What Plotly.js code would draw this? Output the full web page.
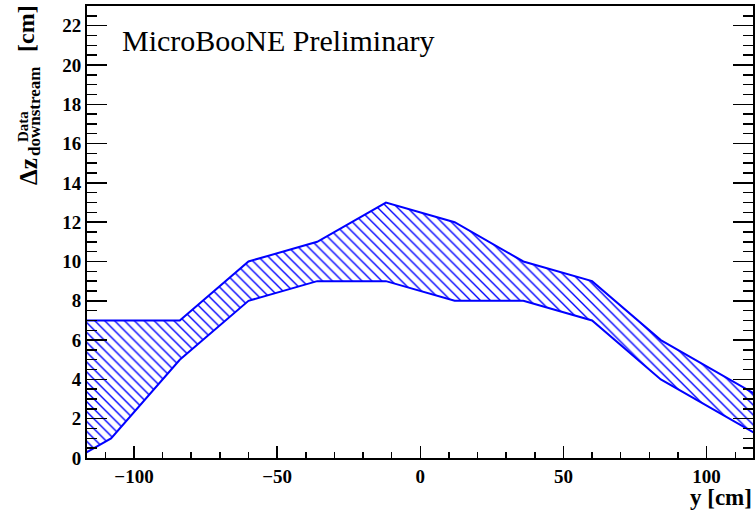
<!DOCTYPE html>
<html>
<head>
<meta charset="utf-8">
<script src="https://cdn.plot.ly/plotly-3.0.1.min.js"></script>
<style>html,body{margin:0;padding:0;background:#fff;}#plot{width:756px;height:515px;}</style>
</head>
<body>
<div id="plot"></div>
<script>
// Data
const yPos = [-120, -108, -84, -60, -36, -12, 12, 36, 60, 84, 108, 120];
const upperDz = [7, 7, 7, 10, 11, 13, 12, 10, 9, 6, 4, 3];
const lowerDz = [0, 1, 5, 8, 9, 9, 8, 8, 7, 4, 2, 1];
const xTickVals = [-100, -50, 0, 50, 100];
const yTickVals = [0, 2, 4, 6, 8, 10, 12, 14, 16, 18, 20, 22];

const polyX = yPos.concat(yPos.slice().reverse()).concat([yPos[0]]);
const polyY = upperDz.concat(lowerDz.slice().reverse()).concat([upperDz[0]]);

const FONT = "Liberation Serif, Times New Roman, serif";
const W = 756, H = 515;
const M = {l: 87, r: 3, t: 6, b: 57};
const PW = W - M.l - M.r, PH = H - M.t - M.b;
const px = x => (x - M.l) / PW;
const py = y => (H - M.b - y) / PH;

const trace = {
  x: polyX, y: polyY,
  type: 'scatter', mode: 'lines',
  fill: 'toself',
  fillcolor: 'rgba(255,255,255,0)',
  fillpattern: {shape: '\\', fgcolor: '#0000ff', bgcolor: 'rgba(255,255,255,0)', size: 7, solidity: 0.2},
  line: {color: '#0000ff', width: 2},
  hoverinfo: 'skip'
};

const axisCommon = {
  showgrid: false, zeroline: false,
  showline: true, linecolor: '#000', linewidth: 2,
  ticks: 'inside', tickcolor: '#000', tickwidth: 1.5,
  tickfont: {family: FONT, size: 19, color: '#000', weight: 'bold'}
};

function rot(text, x, y, size) {
  return {text: '<b>' + text + '</b>', xref: 'paper', yref: 'paper', x: px(x), y: py(y), textangle: -90,
    xanchor: 'center', yanchor: 'middle', showarrow: false, borderpad: 0,
    font: {family: FONT, size: size, color: '#000'}};
}

const layout = {
  width: W, height: H,
  margin: M,
  paper_bgcolor: '#fff', plot_bgcolor: '#fff',
  showlegend: false,
  xaxis: Object.assign({}, axisCommon, {
    range: [-116.4, 116.2],
    tickmode: 'array', tickvals: xTickVals, ticktext: xTickVals.map(v => v < 0 ? '\u2212' + Math.abs(v) : String(v)),
    ticklen: 12, mirror: true,
    minor: {dtick: 10, ticklen: 6, ticks: 'inside', tickcolor: '#000', tickwidth: 1.5}
  }),
  yaxis: Object.assign({}, axisCommon, {
    range: [0, 23],
    tickmode: 'array', tickvals: yTickVals,
    ticklen: 20, mirror: 'ticks',
    minor: {dtick: 0.5, ticklen: 10, ticks: 'inside', tickcolor: '#000', tickwidth: 1.5}
  }),
  annotations: [
    {text: 'MicroBooNE Preliminary', xref: 'paper', yref: 'paper', x: px(120), y: py(41),
     xanchor: 'left', yanchor: 'middle', showarrow: false, font: {family: FONT, size: 30, color: '#000'}},
    {text: '<b>y [cm]</b>', xref: 'paper', yref: 'paper', x: px(754), y: py(497),
     xanchor: 'right', yanchor: 'middle', showarrow: false, font: {family: FONT, size: 23, color: '#000'}},
    rot('\u0394z', 28, 172, 25),
    rot('Data', 23, 127, 15),
    rot('downstream', 34, 112, 17),
    rot('[cm]', 26, 29, 24)
  ]
};

Plotly.newPlot('plot', [trace], layout, {staticPlot: true, displayModeBar: false});
</script>
</body>
</html>
